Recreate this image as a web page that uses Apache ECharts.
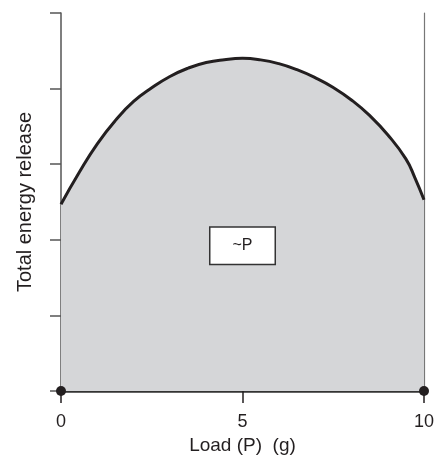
<!DOCTYPE html>
<html>
<head>
<meta charset="utf-8">
<script src="https://cdn.jsdelivr.net/npm/echarts@6/dist/echarts.min.js"></script>
<style>html,body{margin:0;padding:0;background:#fff}#c{width:444px;height:463px}</style>
</head>
<body>
<div id="c"></div>
<script>
var loadX = [0, 0.5, 1, 1.5, 2, 2.5, 3, 3.5, 4, 4.5, 5, 5.5, 6, 6.5, 7, 7.5, 8, 8.5, 9, 9.5, 9.75, 10];
var energyY = [2.47, 2.89, 3.27, 3.58, 3.83, 4.01, 4.16, 4.27, 4.345, 4.383, 4.40, 4.38, 4.33, 4.25, 4.145, 4.015, 3.85, 3.645, 3.39, 3.07, 2.82, 2.53];
var xTicks = [0, 5, 10];
var endPoints = [[0, 0], [10, 0]];
var boxLabel = {x: 5, y: 1.92, text: '~P'};

var curve = loadX.map(function (x, i) { return [x, energyY[i]]; });
var font = '"Liberation Sans", Arial, sans-serif';
var chart = echarts.init(document.getElementById('c'));
chart.setOption({
  animation: false,
  grid: {left: 61, right: 20, top: 13, bottom: 72},
  xAxis: {
    type: 'value', min: 0, max: 10, interval: 5,
    name: 'Load (P)  (g)', nameLocation: 'middle', nameGap: 45,
    nameTextStyle: {fontFamily: font, fontSize: 19, color: '#231f20'},
    axisLine: {show: true, lineStyle: {color: '#333', width: 2.5}},
    axisTick: {show: true, length: 12, lineStyle: {color: '#231f20', width: 1.5}},
    axisLabel: {fontFamily: font, fontSize: 18, color: '#231f20', margin: 22,
      formatter: function (v) { return xTicks.indexOf(v) >= 0 ? String(v) : ''; }},
    splitLine: {show: false}
  },
  yAxis: [{
    type: 'value', min: 0, max: 5, interval: 1,
    name: 'Total energy release', nameLocation: 'middle', nameGap: 26,
    nameTextStyle: {fontFamily: font, fontSize: 20, color: '#231f20'},
    axisLine: {show: true, lineStyle: {color: '#555', width: 1.5}},
    axisTick: {show: true, length: 11, lineStyle: {color: '#555', width: 1.5}},
    axisLabel: {show: false},
    splitLine: {show: false}
  }, {
    type: 'value', min: 0, max: 5, interval: 1, position: 'right',
    axisLine: {show: true, lineStyle: {color: '#777', width: 1.2}},
    axisTick: {show: false}, axisLabel: {show: false}, splitLine: {show: false}
  }],
  series: [{
    type: 'line', data: curve, smooth: 0.5, symbol: 'none',
    lineStyle: {color: '#231f20', width: 3},
    areaStyle: {color: '#d5d6d8', opacity: 1},
    z: 2
  }, {
    type: 'scatter', data: endPoints, symbolSize: 10,
    itemStyle: {color: '#231f20', opacity: 1}, z: 5
  }, {
    type: 'scatter', data: [[boxLabel.x, boxLabel.y]], symbolSize: 0,
    itemStyle: {opacity: 1},
    label: {show: true, position: 'inside', formatter: boxLabel.text,
      fontFamily: font, fontSize: 16, color: '#231f20',
      backgroundColor: '#ffffff', borderColor: '#333', borderWidth: 1.5,
      padding: [10, 22]},
    z: 6
  }]
});
</script>
</body>
</html>
